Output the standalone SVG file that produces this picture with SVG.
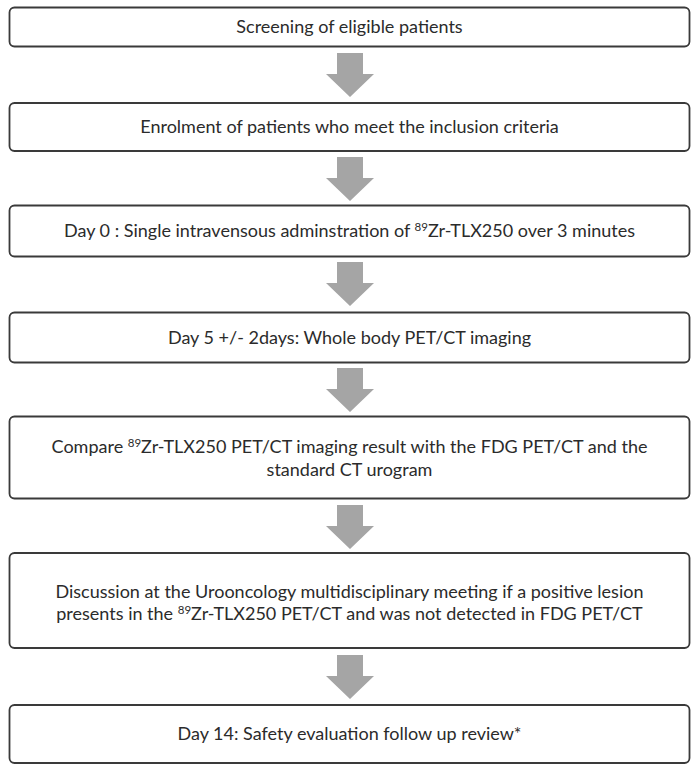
<svg xmlns="http://www.w3.org/2000/svg" width="698" height="766" viewBox="0 0 698 766">
  <defs>
    <style>
      .box { fill: #ffffff; stroke: #3a3a3a; stroke-width: 1.8; }
      .lbl { font-family: Lato, "Liberation Sans", sans-serif; font-size: 18px; fill: #2b2b2b; text-anchor: middle; }
      .sup { font-size: 11.5px; }
      .arrow { fill: #a5a5a5; }
    </style>
    <!-- block arrow, origin at the top centre of its shaft -->
    <path id="down" d="M-13,0 H13 V21 H24 L0,44 L-24,21 H-13 Z"/>
  </defs>
  <rect width="698" height="766" fill="#ffffff"/>

  <g id="connectors">
    <use href="#down" class="arrow" x="350" y="53"/>
    <use href="#down" class="arrow" x="350" y="157"/>
    <use href="#down" class="arrow" x="350" y="262"/>
    <use href="#down" class="arrow" x="350" y="368"/>
    <use href="#down" class="arrow" x="350" y="505"/>
    <use href="#down" class="arrow" x="350" y="655"/>
  </g>

  <g id="screening">
    <rect class="box" x="9.5" y="7.5" width="680" height="39" rx="5"/>
    <text class="lbl" x="349.5" y="33">Screening of eligible patients</text>
  </g>

  <g id="enrolment">
    <rect class="box" x="9.5" y="103" width="680" height="48" rx="5"/>
    <text class="lbl" x="349.5" y="133">Enrolment of patients who meet the inclusion criteria</text>
  </g>

  <g id="day0">
    <rect class="box" x="9.5" y="205.5" width="680" height="51" rx="5"/>
    <text class="lbl" x="349.5" y="237">Day 0 : Single intravensous adminstration of <tspan class="sup" dy="-6">89</tspan><tspan dy="6">Zr-TLX250 over 3 minutes</tspan></text>
  </g>

  <g id="day5">
    <rect class="box" x="9.5" y="312.5" width="680" height="50" rx="5"/>
    <text class="lbl" x="349.5" y="343.5">Day 5 +/- 2days: Whole body PET/CT imaging</text>
  </g>

  <g id="compare">
    <rect class="box" x="9.5" y="416.5" width="680" height="82" rx="5"/>
    <text class="lbl" x="349.5" y="453">Compare <tspan class="sup" dy="-6">89</tspan><tspan dy="6">Zr-TLX250 PET/CT imaging result with the FDG PET/CT and the</tspan></text>
    <text class="lbl" x="349.5" y="476">standard CT urogram</text>
  </g>

  <g id="discussion">
    <rect class="box" x="9.5" y="553" width="680" height="95" rx="5"/>
    <text class="lbl" x="349.5" y="598">Discussion at the Urooncology multidisciplinary meeting if a positive lesion</text>
    <text class="lbl" x="349.5" y="620">presents in the <tspan class="sup" dy="-6">89</tspan><tspan dy="6">Zr-TLX250 PET/CT and was not detected in FDG PET/CT</tspan></text>
  </g>

  <g id="day14">
    <rect class="box" x="9.5" y="705" width="680" height="58" rx="5"/>
    <text class="lbl" x="349.5" y="740">Day 14: Safety evaluation follow up review*</text>
  </g>
</svg>
